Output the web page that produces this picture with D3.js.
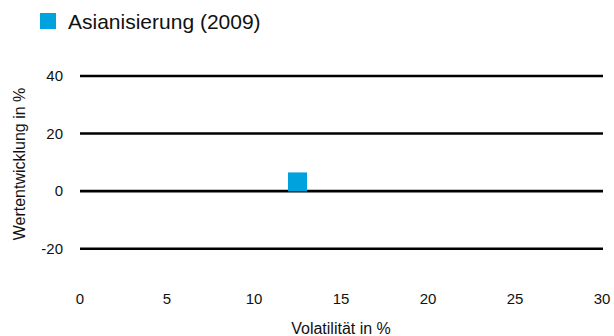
<!DOCTYPE html>
<html>
<head>
<meta charset="utf-8">
<script src="https://cdn.jsdelivr.net/npm/d3@7"></script>
<style>
  html, body { margin: 0; padding: 0; background: #fff; }
  svg { display: block; }
  text { font-family: "Liberation Sans", Arial, sans-serif; fill: #111; }
</style>
</head>
<body>
<svg id="chart" width="614" height="336"></svg>
<script>
// Scatter: volatility vs. performance
const seriesNames = ["Asianisierung (2009)"];
const volatility = [12.5];
const performance = [3.2];
const xTicks = [0, 5, 10, 15, 20, 25, 30];
const yTicks = [-20, 0, 20, 40];
const seriesColor = "#00a2de";

const svg = d3.select("#chart");

const x = d3.scaleLinear().domain([0, 30]).range([80, 602]);
const y = d3.scaleLinear().domain([-20, 40]).range([248.7, 76]);

// Horizontal gridlines
svg.append("g")
  .selectAll("line")
  .data(yTicks)
  .join("line")
  .attr("x1", x(0))
  .attr("x2", x(30) + 1)
  .attr("y1", d => y(d))
  .attr("y2", d => y(d))
  .attr("stroke", "#000")
  .attr("stroke-width", 2.6);

// Y tick labels
svg.append("g")
  .selectAll("text")
  .data(yTicks)
  .join("text")
  .attr("x", 63)
  .attr("y", d => y(d))
  .attr("dy", "0.35em")
  .attr("text-anchor", "end")
  .attr("font-size", 15)
  .attr("font-family", "Roboto, sans-serif")
  .text(d => d);

// X tick labels
svg.append("g")
  .selectAll("text")
  .data(xTicks)
  .join("text")
  .attr("x", d => x(d))
  .attr("y", 299)
  .attr("dy", "0.35em")
  .attr("text-anchor", "middle")
  .attr("font-size", 15)
  .attr("font-family", "Roboto, sans-serif")
  .text(d => d);

// Axis titles
svg.append("text")
  .attr("x", x(15))
  .attr("y", 334)
  .attr("text-anchor", "middle")
  .attr("font-size", 16)
  .text("Volatilität in %");

svg.append("text")
  .attr("transform", "translate(25,164) rotate(-90)")
  .attr("text-anchor", "middle")
  .attr("font-size", 16)
  .text("Wertentwicklung in %");

// Points
const size = 19;
svg.append("g")
  .selectAll("rect")
  .data(volatility.map((v, i) => ({ v, p: performance[i] })))
  .join("rect")
  .attr("x", d => x(d.v) - size / 2)
  .attr("y", d => y(d.p) - size / 2)
  .attr("width", size)
  .attr("height", size)
  .attr("fill", seriesColor);

// Legend
const legend = svg.append("g").attr("transform", "translate(40,13)");
legend.append("rect")
  .attr("width", 16)
  .attr("height", 16)
  .attr("fill", seriesColor);
legend.append("text")
  .attr("x", 28)
  .attr("y", 16)
  .attr("font-size", 21)
  .text(seriesNames[0]);
</script>
</body>
</html>
